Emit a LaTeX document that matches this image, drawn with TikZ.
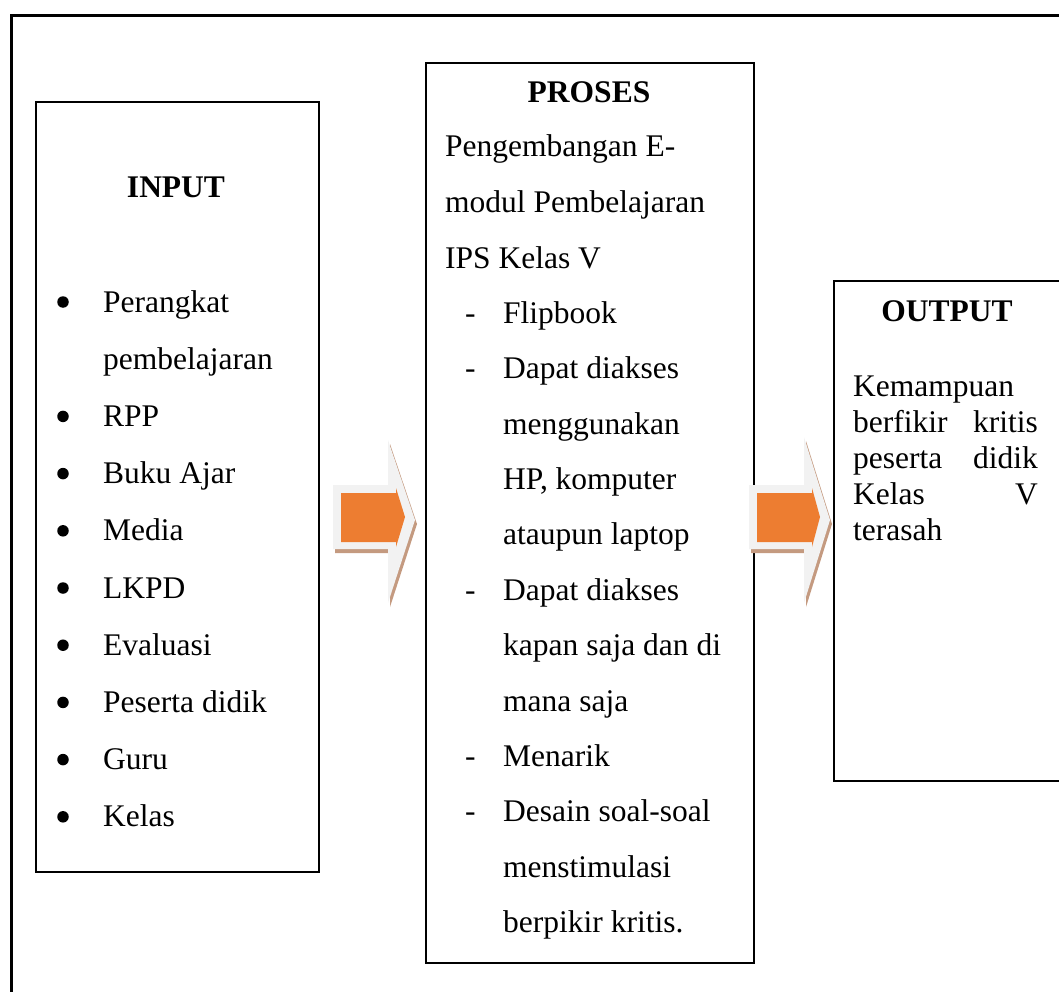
\documentclass[tikz,border=0pt]{standalone}
\usepackage{fontspec}
\setmainfont{Liberation Serif}
\definecolor{arrowgrey}{RGB}{242,242,242}
\definecolor{arroworange}{RGB}{237,125,49}
\definecolor{arrowshade}{RGB}{196,154,128}
\begin{document}
\begin{tikzpicture}[x=1pt,y=-1pt,
  box/.style={draw=black, line width=2pt, inner sep=0pt, anchor=north west, fill=white},
  txt/.style={inner sep=0pt, anchor=base west, font=\fontsize{31.5}{36}\selectfont},
  txtr/.style={inner sep=0pt, anchor=base east, font=\fontsize{31.5}{36}\selectfont},
  hdr/.style={inner sep=0pt, anchor=base, font=\fontsize{31.5}{36}\selectfont\bfseries},
  bul/.style={circle, fill=black, inner sep=0pt, minimum size=11.5pt},
  shade/.style={fill=arrowshade},
  greyarrow/.style={fill=arrowgrey},
  orangearrow/.style={fill=arroworange}
]
\useasboundingbox (0,0) rectangle (1059,992);
\clip (0,0) rectangle (1059,992);
% outer frame
\draw[line width=3pt] (11,16) rectangle (1090,1020);

% boxes
\node[box, minimum width=283pt, minimum height=770pt] (inbox) at (35,101) {};
\node[box, minimum width=328pt, minimum height=900pt] (prbox) at (425,62) {};
\node[box, minimum width=260pt, minimum height=500pt] (outbox) at (833,280) {};

% INPUT
\node[hdr] (inhdr) at (176,198) {INPUT};
\foreach \t [count=\k from 0] in {Perangkat,pembelajaran,RPP,Buku Ajar,Media,LKPD,Evaluasi,Peserta didik,Guru,Kelas}{
  \node[txt] (in\k) at (103,312+57.2*\k) {\t};
}
\foreach \k in {0,2,3,4,5,6,7,8,9}{
  \node[bul] (inb\k) at (63,302+57.2*\k) {};
}

% PROSES
\node[hdr] (prhdr) at (589,103) {PROSES};
\node[txt] (pr0) at (445,157) {Pengembangan E-};
\node[txt] (pr1) at (445,212.5) {modul Pembelajaran};
\node[txt] (pr2) at (445,268) {IPS Kelas V};
\foreach \t [count=\k from 3] in {Flipbook,Dapat diakses,menggunakan,{HP, komputer},ataupun laptop,Dapat diakses,kapan saja dan di,mana saja,Menarik,Desain soal-soal,menstimulasi,berpikir kritis.}{
  \node[txt] (pr\k) at (503,157+55.4*\k) {\t};
}
\foreach \k in {3,4,8,11,12}{
  \node[txt] (prd\k) at (465,157+55.4*\k) {-};
}

% OUTPUT
\node[hdr] (outhdr) at (947,321) {OUTPUT};
\node[txt] (o1) at (853,396) {Kemampuan};
\node[txt] (o2a) at (853,432) {berfikir};
\node[txtr] (o2b) at (1038,432) {kritis};
\node[txt] (o3a) at (853,468) {peserta};
\node[txtr] (o3b) at (1038,468) {didik};
\node[txt] (o4a) at (853,504) {Kelas};
\node[txtr] (o4b) at (1038,504) {V};
\node[txt] (o5) at (853,540) {terasah};

% block arrows
\coordinate (a1) at (333,485);
\coordinate (a2) at (749,485);
\foreach \c/\hx/\tx/\ht/\hb in {a1/55/82/-45/118, a2/55/81/-48/118}{
  \fill[shade] ([shift={(2,4)}]\c) -- ++(\hx,0) -- ++(0,\ht) -- ([shift={(2+\tx,4+35)}]\c) -- ([shift={(2+\hx,4+\hb)}]\c) -- ++(0,-54) -- ([shift={(2,4+64)}]\c) -- cycle;
  \fill[greyarrow] (\c) -- ++(\hx,0) -- ++(0,\ht) -- ([shift={(\tx,35)}]\c) -- ([shift={(\hx,\hb)}]\c) -- ++(0,-54) -- ([shift={(0,64)}]\c) -- cycle;
  \fill[orangearrow] ([shift={(8,8)}]\c) -- ([shift={(\hx+8,8)}]\c) -- ++(0,-5) -- ([shift={(\tx-10,32)}]\c) -- ([shift={(\hx+8,62)}]\c) -- ++(0,-5) -- ([shift={(8,57)}]\c) -- cycle;
}
\end{tikzpicture}
\end{document}
